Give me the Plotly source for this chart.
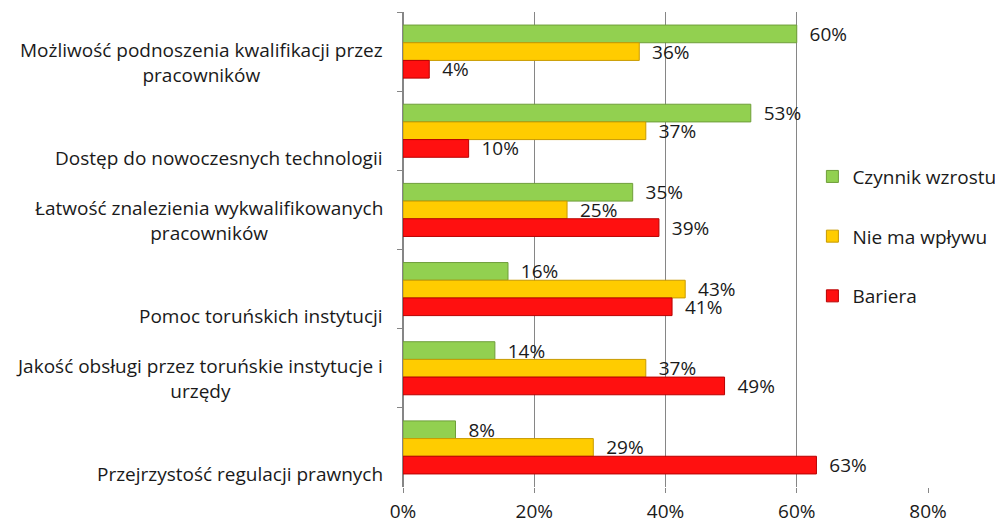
import plotly.graph_objects as go

# categories, top to bottom as in the chart
categories = [
    "Możliwość podnoszenia kwalifikacji przez<br>pracowników",
    "Dostęp do nowoczesnych technologii",
    "Łatwość znalezienia wykwalifikowanych<br>pracowników",
    "Pomoc toruńskich instytucji",
    "Jakość obsługi przez toruńskie instytucje i<br>urzędy",
    "Przejrzystość regulacji prawnych",
]
czynnik_wzrostu = [60, 53, 35, 16, 14, 8]
nie_ma_wplywu = [36, 37, 25, 43, 37, 29]
bariera = [4, 10, 39, 41, 49, 63]

x_ticks = [0, 20, 40, 60, 80]
x_tick_labels = ["0%", "20%", "40%", "60%", "80%"]

FONT = "Open Sans"
TEXT = "#1a1a1a"
GRID = "#868686"

series = [
    ("Czynnik wzrostu", czynnik_wzrostu, "#92d050", "#6f9e3a"),
    ("Nie ma wpływu", nie_ma_wplywu, "#ffcc00", "#c89a00"),
    ("Bariera", bariera, "#ff1010", "#b80000"),
]

fig = go.Figure()
for name, values, fill, edge in series:
    fig.add_trace(
        go.Bar(
            name=name,
            y=categories,
            x=values,
            orientation="h",
            marker=dict(color=fill, line=dict(color=edge, width=1)),
            text=values,
            texttemplate="\u00a0\u00a0%{text}%",
            textposition="outside",
            constraintext="none",
            cliponaxis=False,
            textfont=dict(family=FONT, size=19, color=TEXT),
            legendgroup=name,
        )
    )

# category labels: right-anchored block, lines centred like the original
for cat in categories:
    two_lines = "<br>" in cat
    fig.add_annotation(
        x=0,
        xref="paper",
        xanchor="right",
        xshift=-18,
        y=cat,
        yref="y",
        yanchor="bottom",
        yshift=-38 if two_lines else -42,
        text=cat,
        align="center",
        showarrow=False,
        font=dict(family=FONT, size=19, color=TEXT),
    )

fig.update_xaxes(
    range=[0, 80],
    tickvals=x_ticks,
    ticktext=x_tick_labels,
    showgrid=True,
    gridcolor=GRID,
    gridwidth=1,
    showline=False,
    zeroline=True,
    zerolinecolor=GRID,
    ticks="outside",
    ticklen=5,
    tickcolor=GRID,
    ticklabelstandoff=2,
    automargin=False,
    tickfont=dict(family=FONT, size=19, color=TEXT),
)
fig.update_yaxes(
    categoryorder="array",
    categoryarray=categories,
    autorange="reversed",
    showticklabels=False,
    showline=True,
    linecolor=GRID,
    ticks="outside",
    tickson="boundaries",
    ticklen=5,
    tickcolor=GRID,
    showgrid=False,
    automargin=False,
)
fig.update_layout(
    width=1003,
    height=524,
    margin=dict(l=395, r=83, t=4, b=45, autoexpand=False),
    barmode="group",
    bargap=0.33,
    bargroupgap=0.0,
    plot_bgcolor="white",
    paper_bgcolor="white",
    showlegend=True,
    legend=dict(
        xref="container",
        yref="container",
        x=0.802,
        y=0.7145,
        xanchor="left",
        yanchor="top",
        itemwidth=30,
        bgcolor="rgba(0,0,0,0)",
        font=dict(family=FONT, size=19, color=TEXT),
        tracegroupgap=32,
        traceorder="grouped",
    ),
)

fig.write_html("out.html")
